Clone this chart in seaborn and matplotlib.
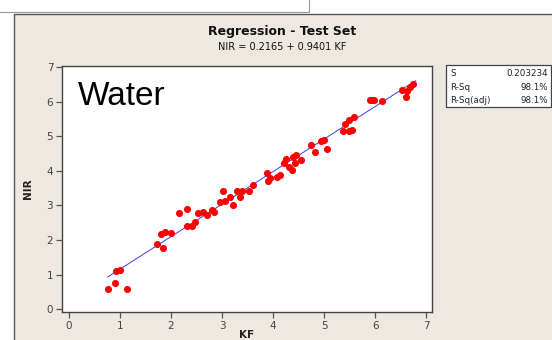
import numpy as np
import pandas as pd
import matplotlib
matplotlib.use("Agg")
import matplotlib.pyplot as plt
from matplotlib.patches import Rectangle
import seaborn as sns

# Test-set water content: reference method (KF) vs NIR prediction
kf = [0.76, 0.90, 0.93, 1.00, 1.14, 1.73, 1.85, 1.80, 1.89, 2.01,
      2.16, 2.32, 2.31, 2.41, 2.48, 2.52, 2.62, 2.70, 2.80, 2.84,
      3.01, 2.96, 3.05, 3.16, 3.22, 3.35, 3.29, 3.39, 3.52, 3.60,
      3.88, 3.91, 3.94, 4.08, 4.14, 4.22, 4.25, 4.32, 4.37, 4.39,
      4.43, 4.46, 4.55, 4.74, 4.83, 4.94, 4.99, 5.06, 5.38, 5.42,
      5.48, 5.54, 5.49, 5.58, 5.90, 5.94, 5.98, 6.13, 6.52, 6.62,
      6.61, 6.69, 6.75]
nir = [0.58, 0.77, 1.09, 1.14, 0.58, 1.87, 1.78, 2.16, 2.23, 2.21,
       2.79, 2.91, 2.41, 2.41, 2.52, 2.77, 2.81, 2.73, 2.87, 2.81,
       3.41, 3.10, 3.14, 3.24, 3.00, 3.24, 3.41, 3.41, 3.41, 3.60,
       3.93, 3.72, 3.78, 3.82, 3.88, 4.24, 4.35, 4.10, 4.03, 4.39,
       4.22, 4.47, 4.30, 4.75, 4.55, 4.86, 4.89, 4.64, 5.15, 5.36,
       5.15, 5.18, 5.47, 5.55, 6.05, 6.06, 6.05, 6.03, 6.34, 6.31,
       6.13, 6.43, 6.51]

intercept = 0.2165
slope = 0.9401
fit_range = [0.76, 6.80]

stat_names = ["S", "R-Sq", "R-Sq(adj)"]
stat_values = ["0.203234", "98.1%", "98.1%"]

df = pd.DataFrame({"KF": kf, "NIR": nir})
fit_df = pd.DataFrame({"KF": fit_range,
                       "NIR": [intercept + slope * v for v in fit_range]})

sns.set_style("white")
plt.rcParams["font.family"] = ["DejaVu Sans"]

W, H = 552, 340
fig = plt.figure(figsize=(W / 100, H / 100), dpi=100)
fig.patch.set_facecolor("white")

# window panel behind the graph
fig.patches.append(Rectangle((14 / W, -0.01), 1.0, 1 - 14 / H + 0.01,
                             transform=fig.transFigure, facecolor="#EDE9E0",
                             edgecolor="#555555", linewidth=1.0, zorder=-2))
fig.patches.append(Rectangle((-0.01, 1 - 12 / H), 309 / W + 0.01, 0.1,
                             transform=fig.transFigure, facecolor="white",
                             edgecolor="#999999", linewidth=0.8, zorder=-2))

ax = fig.add_axes([62.3 / W, 1 - 312.3 / H, (431.7 - 62.3) / W, (312.3 - 66) / H])
ax.set_zorder(1)
ax.set_facecolor("white")

sns.lineplot(data=fit_df, x="KF", y="NIR", ax=ax, color="#3b3bff",
             linewidth=0.7, zorder=2)
sns.scatterplot(data=df, x="KF", y="NIR", ax=ax, color="#ff0000", s=26,
                linewidth=0, zorder=3)

ax.set_xlim(-0.13, 7.11)
ax.set_ylim(-0.09, 7.03)
ax.set_xticks(range(0, 8))
ax.set_yticks(range(0, 8))
for sp in ax.spines.values():
    sp.set_color("#444444")
    sp.set_linewidth(1.0)
ax.tick_params(axis="both", direction="out", length=4.5, width=0.9,
               color="#555555", labelcolor="#444444", labelsize=7.5,
               bottom=True, left=True)
ax.tick_params(axis="x", pad=2)
ax.tick_params(axis="y", pad=2)

ax.set_xlabel("")
ax.set_ylabel("NIR", fontsize=7.5, fontweight="bold", color="#222222", labelpad=10)
fig.text(247 / W, 0.5 / H, "KF", ha="center", va="bottom", fontsize=7.5,
         fontweight="bold", color="#222222")

ax.text(0.043, 0.94, "Water", transform=ax.transAxes, ha="left", va="top",
        fontsize=24, family=["Liberation Sans"], color="black")

fig.text(282 / W, 1 - 32 / H, "Regression - Test Set", ha="center", va="center",
         fontsize=9, fontweight="bold", color="#111111")
fig.text(282 / W, 1 - 46.5 / H, "NIR = 0.2165 + 0.9401 KF", ha="center",
         va="center", fontsize=7, color="#111111")

# summary statistics box
bx0, by0, bx1, by1 = 446, 65, 551, 107
fig.patches.append(Rectangle((bx0 / W, 1 - by1 / H), (bx1 - bx0) / W,
                             (by1 - by0) / H, transform=fig.transFigure,
                             facecolor="white", edgecolor="#444444",
                             linewidth=0.9, zorder=-1))
for i, (name, val) in enumerate(zip(stat_names, stat_values)):
    yy = 1 - (74 + 13 * i) / H
    fig.text(450 / W, yy, name, ha="left", va="center", fontsize=6.3,
             color="#222222", zorder=2)
    fig.text(548 / W, yy, val, ha="right", va="center", fontsize=6.3,
             color="#222222", zorder=2)

fig.savefig("out.png", dpi=100)
